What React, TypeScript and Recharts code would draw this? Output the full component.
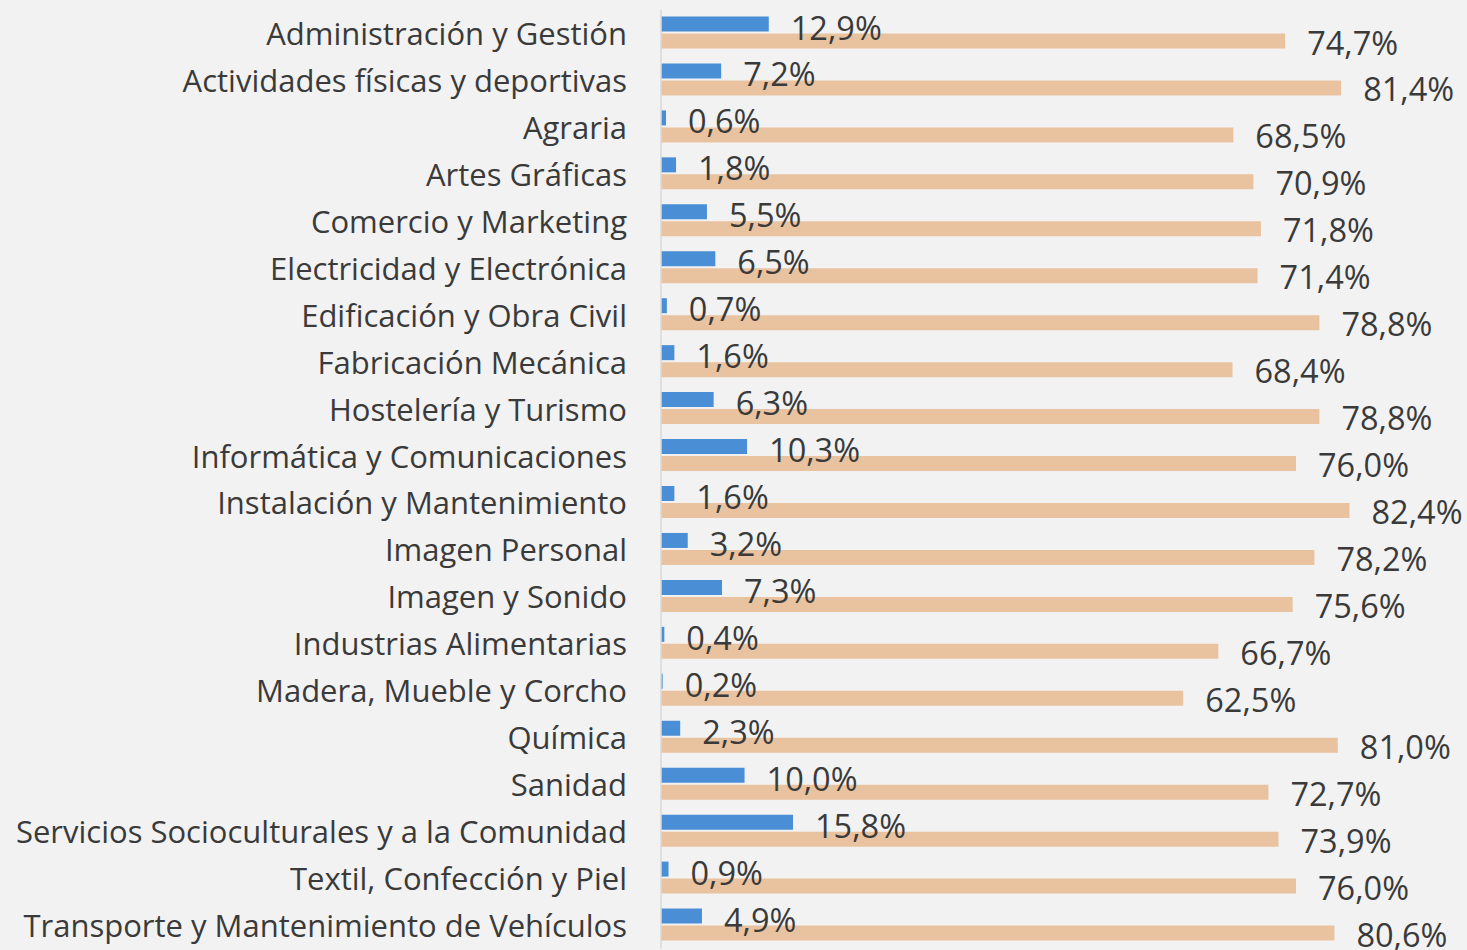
import React from "react";
import { BarChart, Bar, XAxis, YAxis, LabelList } from "recharts";

const categories = [
  "Administración y Gestión",
  "Actividades físicas y deportivas",
  "Agraria",
  "Artes Gráficas",
  "Comercio y Marketing",
  "Electricidad y Electrónica",
  "Edificación y Obra Civil",
  "Fabricación Mecánica",
  "Hostelería y Turismo",
  "Informática y Comunicaciones",
  "Instalación y Mantenimiento",
  "Imagen Personal",
  "Imagen y Sonido",
  "Industrias Alimentarias",
  "Madera, Mueble y Corcho",
  "Química",
  "Sanidad",
  "Servicios Socioculturales y a la Comunidad",
  "Textil, Confección y Piel",
  "Transporte y Mantenimiento de Vehículos",
];

const blueValues = [12.9, 7.2, 0.6, 1.8, 5.5, 6.5, 0.7, 1.6, 6.3, 10.3, 1.6, 3.2, 7.3, 0.4, 0.2, 2.3, 10.0, 15.8, 0.9, 4.9];
const tanValues = [74.7, 81.4, 68.5, 70.9, 71.8, 71.4, 78.8, 68.4, 78.8, 76.0, 82.4, 78.2, 75.6, 66.7, 62.5, 81.0, 72.7, 73.9, 76.0, 80.6];

const data = categories.map((name, i) => ({ name, blue: blueValues[i], tan: tanValues[i] }));

const FONT = "'Open Sans', sans-serif";
const TEXT = "#3a3a3a";

const fmt = (v: number) => v.toFixed(1).replace(".", ",") + "%";

const makeLabel = (dyShift: number) => (props: any) => {
  const { x, y, width, height, value } = props;
  return (
    <text
      x={Number(x) + Number(width) + 22}
      y={Number(y) + Number(height) / 2 + dyShift}
      fill={TEXT}
      fontSize={32.5}
      fontFamily={FONT}
      dominantBaseline="central"
      textAnchor="start"
    >
      {fmt(Number(value))}
    </text>
  );
};

const CatTick = (props: any) => {
  const { x, y, payload } = props;
  return (
    <text x={x} y={y} fill={TEXT} fontSize={31} fontFamily={FONT} textAnchor="end" dominantBaseline="central">
      {payload.value}
    </text>
  );
};

export default function App() {
  return (
    <div style={{ position: "absolute", left: 0, top: 0, width: 1467, height: 950, background: "#f2f2f2" }}>
      <BarChart
        width={1467}
        height={950}
        data={data}
        layout="vertical"
        margin={{ top: 9.5, right: 54, bottom: 1.5, left: 0 }}
        barSize={15}
        barGap={2}
      >
        <XAxis type="number" domain={[0, 90]} hide />
        <YAxis
          type="category"
          dataKey="name"
          width={661}
          tickSize={0}
          tickMargin={34}
          axisLine={{ stroke: "#d9d9d9", strokeWidth: 1.5 }}
          tickLine={false}
          tick={<CatTick />}
          interval={0}
        />
        <Bar dataKey="blue" fill="#4a8fd6" isAnimationActive={false}>
          <LabelList dataKey="blue" content={makeLabel(3)} />
        </Bar>
        <Bar dataKey="tan" fill="#e9c29f" isAnimationActive={false}>
          <LabelList dataKey="tan" content={makeLabel(1)} />
        </Bar>
      </BarChart>
    </div>
  );
}
